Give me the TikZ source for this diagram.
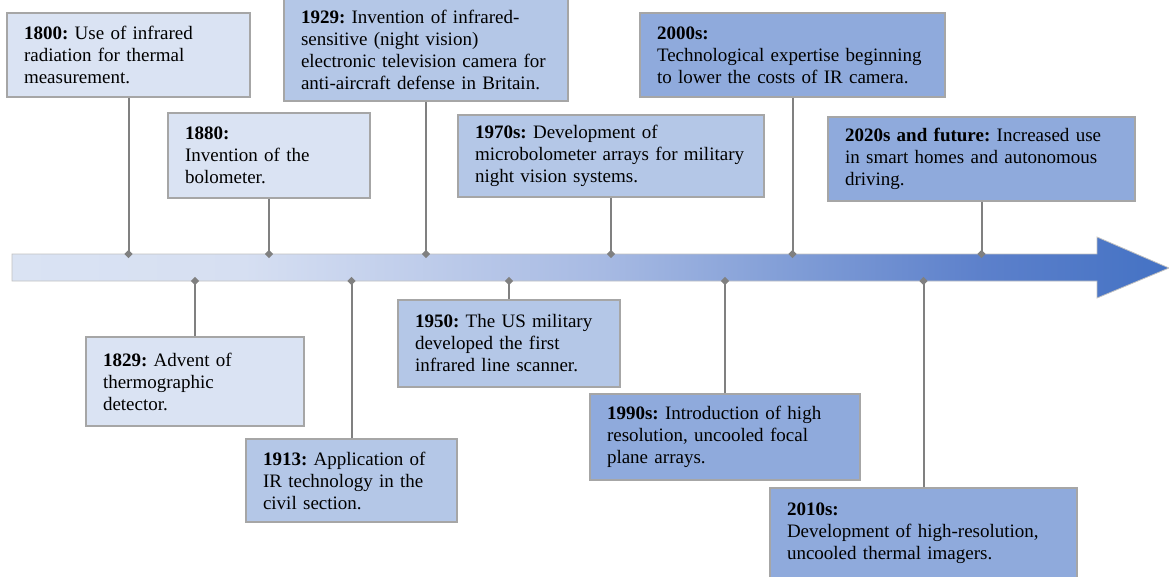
\documentclass[tikz,border=0pt]{standalone}
\usepackage{fontspec}
\setmainfont{Liberation Serif}
\usepackage{xcolor}
\usepackage{tikz}
\usetikzlibrary{shapes.geometric}
\definecolor{boxlight}{HTML}{DAE3F3}
\definecolor{boxmid}{HTML}{B4C7E7}
\definecolor{boxdark}{HTML}{8FAADC}
\definecolor{linegray}{HTML}{808080}
\definecolor{edgegray}{HTML}{A6A6A6}
\definecolor{barA}{HTML}{D6DFF2}
\definecolor{barB}{HTML}{A7BAE3}
\definecolor{barC}{HTML}{7F9CD6}
\definecolor{barD}{HTML}{5C80CB}
\definecolor{arrowblue}{HTML}{4472C4}
\pgfdeclarehorizontalshading{timeshade}{100bp}{color(0bp)=(boxlight); color(25bp)=(boxlight);
  color(35bp)=(barA); color(50.5bp)=(barB); color(59bp)=(barC); color(67bp)=(barD);
  color(75bp)=(arrowblue); color(100bp)=(arrowblue)}

\begin{document}
\begin{tikzpicture}[
  x=1pt, y=-1pt,
  event/.style={rectangle, draw=edgegray, line width=1.2pt, inner xsep=17pt, inner ysep=0pt,
                font=\fontsize{19}{22}\selectfont,
                execute at begin node={\raggedright\rightskip=0pt plus 1fil minus 24pt%
                  \hyphenpenalty=10000\frenchspacing}},
  light/.style={event, fill=boxlight},
  mid/.style={event, fill=boxmid},
  dark/.style={event, fill=boxdark},
  conn/.style={draw=linegray, line width=2pt},
  joint/.style={diamond, fill=linegray, inner sep=0pt, minimum size=9pt},
]
\useasboundingbox (0,0) rectangle (1169,576);

% Timeline arrow
\shade[shading=timeshade, draw=edgegray!70, line width=0.8pt]
  (12,254) -- (1097,254) -- (1097,237) -- (1169,268) -- (1097,298) -- (1097,281) -- (12,281) -- cycle;
\coordinate (bartop) at (0,254);
\coordinate (barbot) at (0,281);

% Events above the line
\node[light, text width=209pt, minimum height=84pt] at (128.5,55)  (n1800)
  {\textbf{1800:} Use of infrared\\radiation for thermal\\measurement.};
\node[light, text width=168pt, minimum height=85pt] at (269,155.5) (n1880)
  {\textbf{1880:}\\Invention of the\\bolometer.};
\node[mid,   text width=250pt, minimum height=102pt] at (426,50)   (n1929)
  {\textbf{1929:} Invention of infrared-\\sensitive (night vision)\\electronic television camera for\\anti-aircraft defense in Britain.};
\node[mid,   text width=272pt, minimum height=82pt] at (611,156)   (n1970)
  {\textbf{1970s:} Development of\\microbolometer arrays for military\\night vision systems.};
\node[dark,  text width=271pt, minimum height=84pt] at (792.5,55)  (n2000)
  {\textbf{2000s:}\\Technological expertise beginning\\to lower the costs of IR camera.};
\node[dark,  text width=273pt, minimum height=84pt] at (981.5,159) (n2020)
  {\textbf{2020s and future:} Increased use\\in smart homes and autonomous\\driving.};

% Events below the line
\node[light, text width=184pt, minimum height=89pt] at (195,381.5) (n1829)
  {\textbf{1829:} Advent of\\thermographic\\detector.};
\node[mid,   text width=177pt, minimum height=83pt] at (351.5,480.5) (n1913)
  {\textbf{1913:} Application of\\IR technology in the\\civil section.};
\node[mid,   text width=188pt, minimum height=87pt] at (509,343.5) (n1950)
  {\textbf{1950:} The US military\\developed the first\\infrared line scanner.};
\node[dark,  text width=236pt, minimum height=86pt] at (725,437)   (n1990)
  {\textbf{1990s:} Introduction of high\\resolution, uncooled focal\\plane arrays.};
\node[dark,  text width=273pt, minimum height=90pt] at (923.5,533) (n2010)
  {\textbf{2010s:}\\Development of high-resolution,\\uncooled thermal imagers.};

% Connectors to the timeline
\foreach \ev in {n1800, n1880, n1929, n1970, n2000, n2020}
  \draw[conn] (\ev.south) -- (\ev.south |- bartop) node[joint] {};
\foreach \ev in {n1829, n1913, n1950, n1990, n2010}
  \draw[conn] (\ev.north) -- (\ev.north |- barbot) node[joint] {};
\end{tikzpicture}
\end{document}
